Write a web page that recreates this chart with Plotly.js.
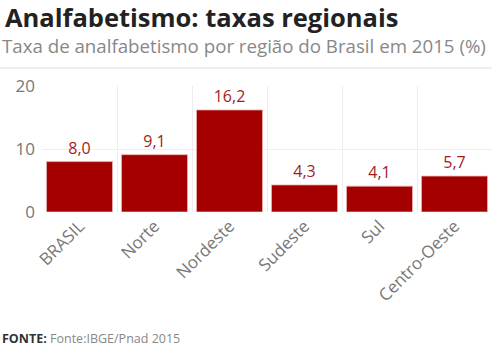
<!DOCTYPE html>
<html><head><meta charset="utf-8">
<script src="https://cdn.plot.ly/plotly-3.0.1.min.js"></script>
<style>body{margin:0;padding:0;background:#fff}#chart{width:500px;height:351px}</style>
</head><body><div id="chart"></div>
<script>
const categories = ["BRASIL", "Norte", "Nordeste", "Sudeste", "Sul", "Centro-Oeste"];
const values = [8.0, 9.1, 16.2, 4.3, 4.1, 5.7];
const labels = ["8,0", "9,1", "16,2", "4,3", "4,1", "5,7"];
const yTicks = [0, 10, 20];

const trace = {
  type: "bar",
  x: categories,
  y: values,
  text: labels,
  textposition: "outside",
  textfont: {family: "Open Sans", size: 16, color: "#a11d1d"},
  marker: {color: "#a50000", line: {color: "#e8b0b0", width: 0.8}},
  cliponaxis: false,
  hoverinfo: "none"
};

const layout = {
  width: 500, height: 351,
  margin: {l: 42, r: 8, t: 86, b: 139},
  paper_bgcolor: "#fff", plot_bgcolor: "#fff",
  bargap: 0.12,
  showlegend: false,
  font: {family: "Open Sans", color: "#777"},
  xaxis: {
    type: "category",
    tickangle: -45,
    tickson: "boundaries",
    showgrid: true, gridcolor: "#eeeeee",
    tickfont: {family: "Open Sans", size: 17, color: "#777"},
    ticks: "", zeroline: false, showline: false
  },
  yaxis: {
    range: [0, 20],
    tickvals: yTicks,
    ticktext: yTicks.map(String),
    showgrid: true, gridcolor: "#eeeeee",
    tickfont: {family: "Open Sans", size: 17, color: "#777"},
    zeroline: false, ticks: "", showline: false,
    ticklabelstandoff: 6
  },
  shapes: [{type: "line", xref: "paper", yref: "paper", x0: -0.094, x1: 1.0, y0: 1.143, y1: 1.143,
            line: {color: "#dddddd", width: 1}}],
  annotations: [
    {text: "<b>Analfabetismo: taxas regionais</b>", xref: "paper", yref: "paper", x: -0.086, y: 1.545,
     xanchor: "left", yanchor: "middle", showarrow: false,
     font: {family: "Open Sans", size: 25.5, weight: 800, color: "#222"}},
    {text: "Taxa de analfabetismo por região do Brasil em 2015 (%)", xref: "paper", yref: "paper", x: -0.094, y: 1.325,
     xanchor: "left", yanchor: "middle", showarrow: false,
     font: {family: "Open Sans", size: 18.7, color: "#888"}},
    {text: "<b>FONTE:</b> <span style='color:#888'>Fonte:IBGE/Pnad 2015</span>", xref: "paper", yref: "paper", x: -0.094, y: -1.0,
     xanchor: "left", yanchor: "middle", showarrow: false,
     font: {family: "Open Sans", size: 12.5, color: "#333"}}
  ]
};

Plotly.newPlot("chart", [trace], layout, {displayModeBar: false, staticPlot: true});
</script></body></html>
